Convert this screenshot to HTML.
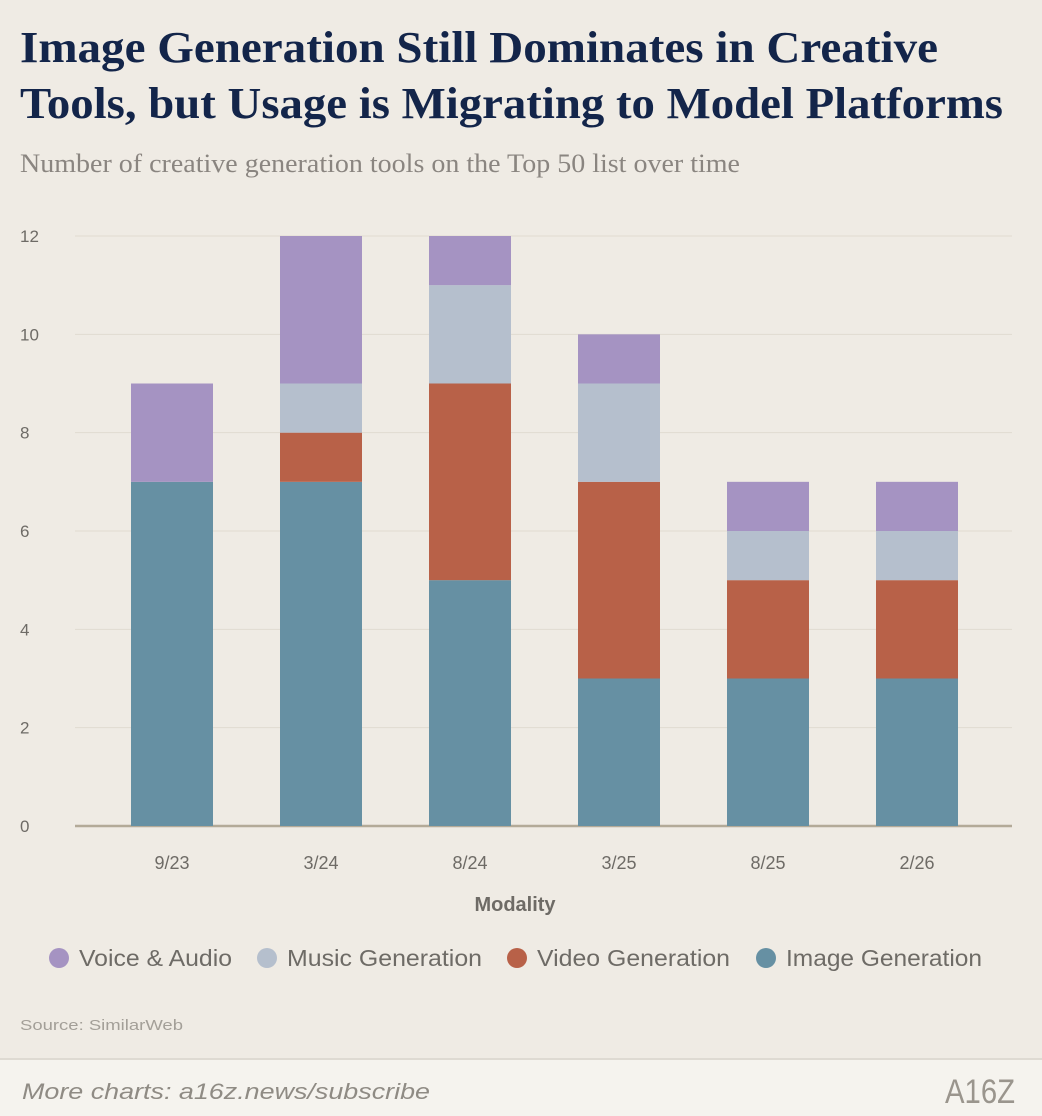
<!DOCTYPE html>
<html><head><meta charset="utf-8"><style>
html,body{margin:0;padding:0;background:#efebe4;}
svg{display:block;}
</style></head><body>
<svg id="chart" width="1042" height="1116" viewBox="0 0 1042 1116" xmlns="http://www.w3.org/2000/svg">
<rect x="0" y="0" width="1042" height="1116" fill="#efebe4"/>
<text x="20" y="62" font-family="Liberation Serif, serif" font-weight="bold" font-size="44" fill="#13254a" textLength="918" lengthAdjust="spacingAndGlyphs">Image Generation Still Dominates in Creative</text>
<text x="20" y="118" font-family="Liberation Serif, serif" font-weight="bold" font-size="44" fill="#13254a" textLength="983" lengthAdjust="spacingAndGlyphs">Tools, but Usage is Migrating to Model Platforms</text>
<text x="20" y="172" font-family="Liberation Serif, serif" font-size="26" fill="#8a8580" textLength="720" lengthAdjust="spacingAndGlyphs">Number of creative generation tools on the Top 50 list over time</text>
<g id="grid"></g>
<g id="bars"></g>
<g id="xlabels"></g>
<text x="515" y="911" text-anchor="middle" font-family="Liberation Sans, sans-serif" font-weight="bold" font-size="20" fill="#6e6b66">Modality</text>
<g font-family="Liberation Sans, sans-serif" font-size="23" fill="#6e6b66">
<g><circle cx="59" cy="958" r="10" fill="#a593c2"/><text x="79" y="966" textLength="153" lengthAdjust="spacingAndGlyphs">Voice &amp; Audio</text></g>
<g><circle cx="267" cy="958" r="10" fill="#b5bfcd"/><text x="287" y="966" textLength="195" lengthAdjust="spacingAndGlyphs">Music Generation</text></g>
<g><circle cx="517" cy="958" r="10" fill="#b86148"/><text x="537" y="966" textLength="193" lengthAdjust="spacingAndGlyphs">Video Generation</text></g>
<g><circle cx="766" cy="958" r="10" fill="#6690a3"/><text x="786" y="966" textLength="196" lengthAdjust="spacingAndGlyphs">Image Generation</text></g>
</g>
<text x="20" y="1030" font-family="Liberation Sans, sans-serif" font-size="15" fill="#a39f98" textLength="163" lengthAdjust="spacingAndGlyphs">Source: SimilarWeb</text>
<rect x="0" y="1058" width="1042" height="58" fill="#f5f3ee"/>
<line x1="0" y1="1059" x2="1042" y2="1059" stroke="#dedad2" stroke-width="2"/>
<a><text x="22" y="1099" font-family="Liberation Sans, sans-serif" font-style="italic" font-size="22" fill="#8f8b84" textLength="408" lengthAdjust="spacingAndGlyphs">More charts: a16z.news/subscribe</text></a>
<text x="1015" y="1103" text-anchor="end" font-family="Liberation Sans, sans-serif" font-size="34" fill="#9a958d" textLength="70" lengthAdjust="spacingAndGlyphs">A16Z</text>
</svg>
<script>
const categories = ["9/23","3/24","8/24","3/25","8/25","2/26"];
const imageGen = [7,7,5,3,3,3];
const videoGen = [0,1,4,4,2,2];
const musicGen = [0,1,2,2,1,1];
const voiceAudio = [2,3,1,1,1,1];
const yTicks = [0,2,4,6,8,10,12];

const NS = "http://www.w3.org/2000/svg";
const y0 = 826, yTop = 236, yMax = 12;
function yScale(v){ return y0 - (y0 - yTop) * v / yMax; }
const x0 = 75, x1 = 1012, step = 149, barW = 82, firstCenter = 172;
function xCenter(i){ return firstCenter + step * i; }

const grid = document.getElementById('grid');
yTicks.forEach(t => {
  const l = document.createElementNS(NS,'line');
  l.setAttribute('x1', x0); l.setAttribute('x2', x1);
  l.setAttribute('y1', yScale(t)); l.setAttribute('y2', yScale(t));
  l.setAttribute('stroke', t === 0 ? '#b3aa98' : '#e0dbd1');
  l.setAttribute('stroke-width', t === 0 ? 2.5 : 1);
  
  
  grid.appendChild(l);
  const tx = document.createElementNS(NS,'text');
  tx.setAttribute('x', 20); tx.setAttribute('y', yScale(t) + 6);
  tx.setAttribute('font-family', 'Liberation Sans, sans-serif');
  tx.setAttribute('font-size', '17'); tx.setAttribute('fill', '#6e6b66');
  tx.textContent = t;
  
  
  grid.appendChild(tx);
});

const series = [
  {vals: imageGen, color: '#6690a3', name: 'image'},
  {vals: videoGen, color: '#b86148', name: 'video'},
  {vals: musicGen, color: '#b5bfcd', name: 'music'},
  {vals: voiceAudio, color: '#a593c2', name: 'voice'}
];
const bars = document.getElementById('bars');
const xl = document.getElementById('xlabels');
categories.forEach((c, i) => {
  let acc = 0;
  series.forEach(s => {
    const v = s.vals[i];
    if (v > 0) {
      const r = document.createElementNS(NS,'rect');
      r.setAttribute('x', xCenter(i) - barW/2);
      r.setAttribute('y', yScale(acc + v));
      r.setAttribute('width', barW);
      r.setAttribute('height', yScale(acc) - yScale(acc + v));
      r.setAttribute('fill', s.color);
      
      
      bars.appendChild(r);
    }
    acc += v;
  });
  const t = document.createElementNS(NS,'text');
  t.setAttribute('x', xCenter(i)); t.setAttribute('y', 869);
  t.setAttribute('text-anchor', 'middle');
  t.setAttribute('font-family', 'Liberation Sans, sans-serif');
  t.setAttribute('font-size', '18'); t.setAttribute('fill', '#6e6b66');
  t.textContent = c;
  
  
  xl.appendChild(t);
});
</script>
</body></html>
